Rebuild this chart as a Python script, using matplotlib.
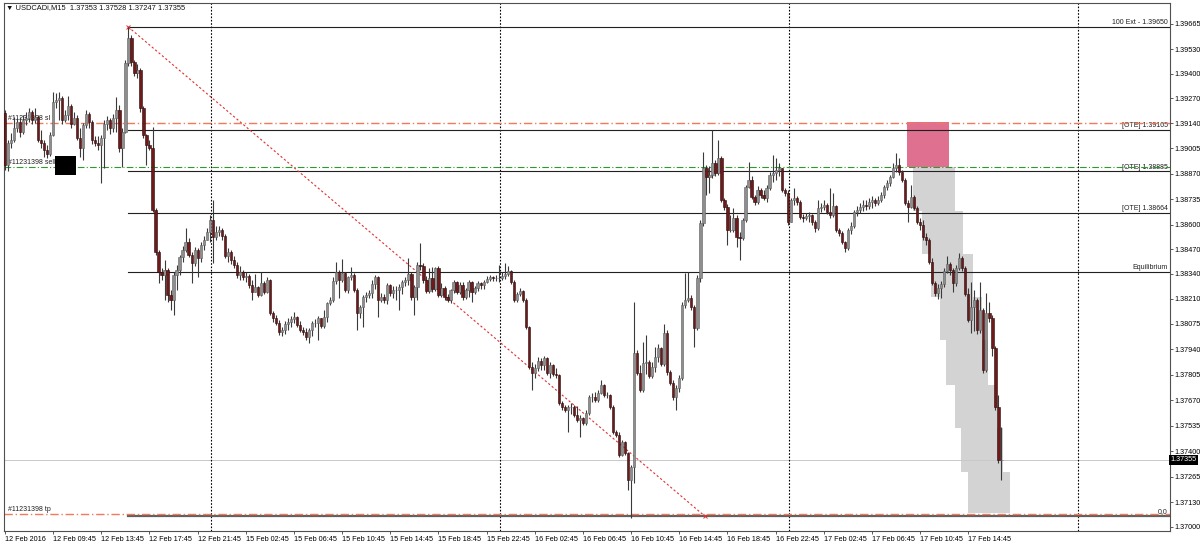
import numpy as np
import matplotlib.pyplot as plt
from matplotlib.patches import Rectangle

plt.rcParams['font.family'] = ['Liberation Sans', 'DejaVu Sans']

# Prezzi in punti (0.00001) sopra 1.37000, una candela M15 per elemento
first_open = 2193
closes = [
    1918, 2034, 2050, 2114, 2145, 2092, 2156, 2167, 2198, 2156, 2172, 2050, 2034, 1997, 1976, 2077,
    2251, 2262, 2273, 2156, 2183, 2230, 2135, 2167, 2061, 2008, 2130, 2188, 2145, 2050, 2034, 2024,
    2061, 2135, 2156, 2114, 2167, 2209, 2008, 2092, 2458, 2591, 2463, 2405, 2421, 2220, 2077, 2024,
    2008, 1679, 1456, 1350, 1335, 1361, 1228, 1202, 1335, 1361, 1430, 1467, 1509, 1441, 1398, 1467,
    1425, 1494, 1520, 1562, 1626, 1536, 1562, 1573, 1541, 1435, 1456, 1414, 1388, 1335, 1350, 1324,
    1329, 1282, 1244, 1271, 1228, 1292, 1244, 1308, 1133, 1107, 1080, 1032, 1043, 1075, 1085, 1101,
    1112, 1070, 1043, 1032, 1006, 1043, 1080, 1080, 1107, 1064, 1112, 1186, 1202, 1303, 1350, 1308,
    1345, 1255, 1324, 1335, 1255, 1133, 1165, 1218, 1228, 1239, 1287, 1324, 1202, 1218, 1202, 1282,
    1239, 1255, 1255, 1271, 1297, 1308, 1340, 1218, 1271, 1388, 1382, 1308, 1250, 1319, 1260, 1372,
    1228, 1266, 1218, 1202, 1255, 1297, 1244, 1282, 1218, 1255, 1297, 1244, 1266, 1292, 1282, 1297,
    1313, 1324, 1319, 1319, 1319, 1329, 1340, 1356, 1297, 1202, 1234, 1250, 1202, 1059, 846, 815,
    842, 879, 858, 895, 815, 858, 810, 805, 656, 635, 619, 635, 635, 593, 566, 577,
    550, 603, 688, 688, 672, 709, 751, 698, 698, 635, 502, 486, 380, 449, 391, 248,
    317, 921, 815, 725, 868, 873, 799, 847, 900, 948, 863, 1027, 820, 762, 688, 736,
    789, 1175, 1202, 1213, 1165, 1054, 1319, 1610, 1902, 1854, 1865, 1928, 1875, 1955, 1732, 1695,
    1573, 1573, 1637, 1536, 1531, 1626, 1801, 1838, 1748, 1721, 1785, 1759, 1743, 1796, 1865, 1875,
    1891, 1902, 1785, 1769, 1615, 1732, 1743, 1721, 1642, 1637, 1647, 1653, 1615, 1584, 1690, 1695,
    1706, 1668, 1653, 1700, 1573, 1557, 1509, 1478, 1573, 1594, 1668, 1679, 1695, 1706, 1700, 1721,
    1732, 1716, 1732, 1759, 1801, 1822, 1854, 1902, 1918, 1880, 1838, 1716, 1695, 1748, 1690, 1615,
    1600, 1536, 1520, 1403, 1292, 1239, 1266, 1287, 1356, 1393, 1361, 1292, 1372, 1425, 1372, 1234,
    1096, 1165, 1202, 1043, 1149, 831, 1133, 1107, 948, 635, 353, 355,
]
highs = [
    2209, 2050, 2087, 2172, 2167, 2172, 2183, 2198, 2220, 2209, 2220, 2183, 2103, 2050, 2024, 2092,
    2304, 2299, 2304, 2283, 2209, 2283, 2241, 2198, 2183, 2114, 2140, 2209, 2198, 2156, 2071, 2071,
    2077, 2156, 2177, 2167, 2188, 2278, 2236, 2114, 2474, 2649, 2607, 2474, 2453, 2432, 2230, 2082,
    2050, 2119, 1690, 1467, 1372, 1414, 1372, 1255, 1350, 1388, 1441, 1488, 1584, 1531, 1456, 1483,
    1477, 1509, 1541, 1584, 1653, 1732, 1594, 1594, 1584, 1552, 1477, 1467, 1435, 1403, 1382, 1361,
    1350, 1340, 1308, 1340, 1276, 1350, 1303, 1324, 1313, 1144, 1122, 1096, 1059, 1091, 1107, 1117,
    1138, 1117, 1091, 1059, 1054, 1054, 1091, 1101, 1117, 1107, 1149, 1191, 1218, 1324, 1403, 1361,
    1419, 1350, 1329, 1377, 1345, 1266, 1175, 1228, 1244, 1255, 1308, 1335, 1329, 1239, 1234, 1292,
    1287, 1276, 1276, 1287, 1308, 1324, 1425, 1350, 1282, 1403, 1504, 1398, 1329, 1372, 1377, 1377,
    1382, 1292, 1276, 1234, 1260, 1308, 1303, 1297, 1297, 1266, 1308, 1303, 1276, 1303, 1297, 1308,
    1329, 1335, 1329, 1335, 1388, 1350, 1398, 1382, 1361, 1308, 1244, 1266, 1255, 1213, 1064, 873,
    863, 900, 895, 905, 900, 873, 863, 842, 810, 667, 646, 646, 656, 646, 640, 593,
    582, 619, 698, 709, 714, 725, 778, 757, 714, 704, 646, 513, 502, 460, 455, 396,
    327, 1191, 937, 858, 979, 1017, 884, 873, 953, 969, 953, 1075, 1043, 831, 778, 751,
    805, 1191, 1345, 1350, 1228, 1175, 1335, 1626, 1986, 1918, 1912, 2103, 1944, 2050, 1965, 1743,
    1711, 1653, 1690, 1653, 1562, 1637, 1812, 1933, 1859, 1759, 1806, 1796, 1785, 1812, 1880, 1971,
    1955, 1928, 1902, 1796, 1785, 1743, 1796, 1753, 1732, 1658, 1663, 1668, 1658, 1626, 1732, 1716,
    1732, 1716, 1796, 1769, 1706, 1584, 1568, 1515, 1584, 1615, 1679, 1700, 1716, 1732, 1732, 1743,
    1753, 1743, 1753, 1774, 1812, 1838, 1865, 1928, 1981, 1955, 1891, 1849, 1732, 1812, 1759, 1700,
    1637, 1626, 1557, 1531, 1425, 1303, 1287, 1303, 1372, 1435, 1403, 1372, 1388, 1451, 1435, 1382,
    1266, 1297, 1255, 1213, 1297, 1160, 1239, 1191, 1122, 958, 698, 528,
]
lows = [
    1891, 1886, 2008, 2039, 2092, 2066, 2082, 2130, 2145, 2135, 2140, 2039, 2008, 1960, 1955, 1965,
    2071, 2220, 2156, 2135, 2145, 2156, 2114, 2130, 2050, 1960, 1944, 2114, 2114, 2029, 2018, 1997,
    1822, 1902, 2103, 2082, 2092, 2092, 1986, 1907, 2087, 2442, 2442, 2389, 2379, 2198, 2061, 1918,
    1997, 1668, 1441, 1293, 1308, 1202, 1191, 1149, 1122, 1255, 1335, 1403, 1456, 1430, 1293, 1382,
    1324, 1403, 1467, 1520, 1509, 1398, 1520, 1541, 1520, 1425, 1403, 1392, 1372, 1319, 1308, 1308,
    1297, 1266, 1202, 1244, 1218, 1223, 1234, 1239, 1122, 1085, 1070, 1017, 1011, 1022, 1043, 1059,
    1080, 1059, 1032, 1017, 990, 974, 1011, 1059, 990, 1054, 1054, 1085, 1175, 1191, 1287, 1213,
    1297, 1244, 1239, 1308, 1244, 1043, 1107, 1059, 1191, 1213, 1213, 1260, 1112, 1191, 1186, 1181,
    1223, 1213, 1202, 1149, 1234, 1276, 1282, 1202, 1122, 1202, 1361, 1292, 1239, 1239, 1244, 1250,
    1218, 1218, 1202, 1191, 1186, 1239, 1234, 1234, 1202, 1207, 1218, 1191, 1234, 1250, 1260, 1260,
    1292, 1303, 1303, 1303, 1297, 1308, 1313, 1329, 1287, 1191, 1191, 1223, 1191, 1048, 836, 725,
    789, 826, 831, 831, 805, 789, 799, 789, 646, 619, 608, 502, 598, 582, 555, 476,
    540, 540, 593, 661, 661, 661, 704, 688, 683, 624, 492, 476, 370, 375, 380, 195,
    47, 232, 805, 714, 714, 810, 789, 789, 820, 873, 852, 852, 805, 751, 672, 619,
    714, 778, 1160, 1191, 1149, 953, 1043, 1297, 1594, 1759, 1769, 1849, 1859, 1865, 1721, 1679,
    1494, 1562, 1562, 1483, 1414, 1520, 1615, 1796, 1737, 1706, 1711, 1743, 1732, 1721, 1785, 1827,
    1838, 1859, 1774, 1753, 1600, 1615, 1706, 1706, 1631, 1615, 1626, 1615, 1600, 1562, 1573, 1668,
    1679, 1658, 1637, 1642, 1562, 1541, 1499, 1456, 1467, 1552, 1584, 1647, 1663, 1674, 1679, 1684,
    1690, 1700, 1706, 1721, 1743, 1785, 1806, 1849, 1880, 1865, 1827, 1706, 1615, 1690, 1679, 1605,
    1573, 1520, 1494, 1393, 1282, 1223, 1207, 1213, 1271, 1345, 1335, 1244, 1276, 1361, 1356, 1223,
    1085, 1027, 1038, 1022, 1027, 815, 820, 1085, 905, 619, 340, 247,
]

# Etichette dell'asse tempo (ogni 16 barre)
time_labels = ["12 Feb 2016", "12 Feb 09:45", "12 Feb 13:45", "12 Feb 17:45", "12 Feb 21:45",
               "15 Feb 02:45", "15 Feb 06:45", "15 Feb 10:45", "15 Feb 14:45", "15 Feb 18:45",
               "15 Feb 22:45", "16 Feb 02:45", "16 Feb 06:45", "16 Feb 10:45", "16 Feb 14:45",
               "16 Feb 18:45", "16 Feb 22:45", "17 Feb 02:45", "17 Feb 06:45", "17 Feb 10:45",
               "17 Feb 14:45"]
day_starts = [68.5, 164.5, 260.5, 356.5]

price_ticks = [1.39665, 1.39530, 1.39400, 1.39270, 1.39140, 1.39005, 1.38870, 1.38735,
               1.38600, 1.38470, 1.38340, 1.38210, 1.38075, 1.37940, 1.37805, 1.37670,
               1.37535, 1.37400, 1.37265, 1.37130, 1.37000]

# Livelli Fibonacci
fib_prices = [1.39650, 1.39105, 1.38885, 1.38664, 1.38353, 1.37055]
fib_labels = ["100 Ext - 1.39650", "[OTE] 1.39105", "[OTE] 1.38885", "[OTE] 1.38664", "Equilibrium", "0.0"]
fib_start = 40.9
fib_end = 232.6

# Ordine aperto
sl_price = 1.39140
entry_price = 1.38907
tp_price = 1.37070
last_price = 1.37355

# Rettangoli disegnati (rosa + scalini grigi)
zone_left = [299.7, 301.7, 304.6, 307.6, 310.6, 312.6, 315.6, 317.6, 319.9]
zone_right = [313.5, 315.5, 318.4, 321.4, 324.4, 326.4, 329.4, 331.4, 333.7]
zone_top = [1.39146, 1.38907, 1.38674, 1.38446, 1.38218, 1.37990, 1.37752, 1.37524, 1.37291]
zone_bottom = [1.38907, 1.38674, 1.38446, 1.38218, 1.37990, 1.37752, 1.37524, 1.37291, 1.37073]
box_bars = [16.6, 23.6]
box_prices = [1.38865, 1.38967]

# Conversione in prezzi
c = 1.37 + np.array(closes) / 1e5
h = 1.37 + np.array(highs) / 1e5
l = 1.37 + np.array(lows) / 1e5
o = np.concatenate([[1.37 + first_open / 1e5], c[:-1]])
x = np.arange(len(c))

fig = plt.figure(figsize=(12, 5.45), dpi=100)
ax = fig.add_axes([4 / 1200, 1 - 531 / 545, 1166 / 1200, 528 / 545])
ax.set_xlim(-0.33, 387.0)
ax.set_ylim(1.36978, 1.39776)

# Rettangoli
for i in range(len(zone_left)):
    col = '#e07090' if i == 0 else '#d3d3d3'
    ax.add_patch(Rectangle((zone_left[i], zone_bottom[i]), zone_right[i] - zone_left[i],
                           zone_top[i] - zone_bottom[i], facecolor=col, edgecolor='none', zorder=1))

# Separatori di giorno
for d in day_starts:
    ax.axvline(d, color='black', lw=0.8, ls=(0, (1.5, 1.5)), zorder=2)

# Linee Fibonacci
for p, lab in zip(fib_prices, fib_labels):
    col = '#606060' if lab == "0.0" else '#202020'
    lw = 1.6 if lab == "0.0" else 0.8
    ax.plot([fib_start, 387.0], [p, p], color=col, lw=lw, zorder=2)
    ax.text(386.3, p + 0.00003, lab, ha='right', va='bottom', fontsize=5.0, color='#202020', zorder=2)
ax.plot([fib_start, fib_end], [fib_prices[0], fib_prices[-1]], color='#e03030', lw=0.8,
        ls=(0, (2, 2)), zorder=2)
ax.plot([fib_start, fib_end], [fib_prices[0], fib_prices[-1]], ls='none', marker='x',
        ms=3, mew=0.7, color='#e03030', zorder=2)

# Linee dell'ordine
ax.axhline(sl_price, color='#f07a5a', lw=1.0, ls=(0, (6, 2, 1, 2)), zorder=2)
ax.axhline(entry_price, color='#2e9a2e', lw=0.8, ls=(0, (6, 2, 1, 2)), zorder=2)
ax.axhline(tp_price, color='#f07a5a', lw=1.0, ls=(0, (6, 2, 1, 2)), zorder=2)
ax.axhline(last_price, color='#c8c8c8', lw=0.7, zorder=1)
ax.text(1.0, sl_price + 0.00003, "#11231398 sl", fontsize=5.0, color='#202020', va='bottom', zorder=2)
ax.text(1.0, entry_price + 0.00003, "#11231398 sell", fontsize=5.0, color='#202020', va='bottom', zorder=2)
ax.text(1.0, tp_price + 0.00003, "#11231398 tp", fontsize=5.0, color='#202020', va='bottom', zorder=2)
ax.add_patch(Rectangle((box_bars[0], box_prices[0]), box_bars[1] - box_bars[0],
                       box_prices[1] - box_prices[0], facecolor='black', zorder=5))

# Candele
bull = c >= o
body_lo = np.minimum(o, c)
body_h = np.maximum(np.abs(c - o), 0.000015)
ax.vlines(x, l, h, color='#3a3a3a', lw=0.8, zorder=3)
ax.bar(x[bull], body_h[bull], width=0.75, bottom=body_lo[bull], color='#8e8e8e',
       edgecolor='#606060', linewidth=0.4, zorder=4)
ax.bar(x[~bull], body_h[~bull], width=0.75, bottom=body_lo[~bull], color='#6e1a1a',
       edgecolor='#2a0a0a', linewidth=0.4, zorder=4)

# Assi
ax.yaxis.tick_right()
ax.set_yticks(price_ticks)
ax.set_yticklabels([f"{p:.5f}" for p in price_ticks])
ax.set_xticks(np.arange(0, 16 * len(time_labels), 16))
ax.set_xticklabels(time_labels, ha='left')
ax.tick_params(axis='both', labelsize=5.2, length=2.5, width=0.6, color='#404040', pad=1.0)
for s in ax.spines.values():
    s.set_color('#505050')
    s.set_linewidth(0.8)

ax.text(1.0, last_price, "1.37355", transform=ax.get_yaxis_transform(), fontsize=5.2,
        color='white', va='center', ha='left',
        bbox=dict(boxstyle='square,pad=0.2', facecolor='black', edgecolor='none'))

fig.text(6 / 1200, 1 - 8 / 545, "\u25bc USDCADi,M15  1.37353 1.37528 1.37247 1.37355",
         fontsize=5.4, va='center', ha='left', color='#101010')

fig.savefig("out.png", dpi=100)
